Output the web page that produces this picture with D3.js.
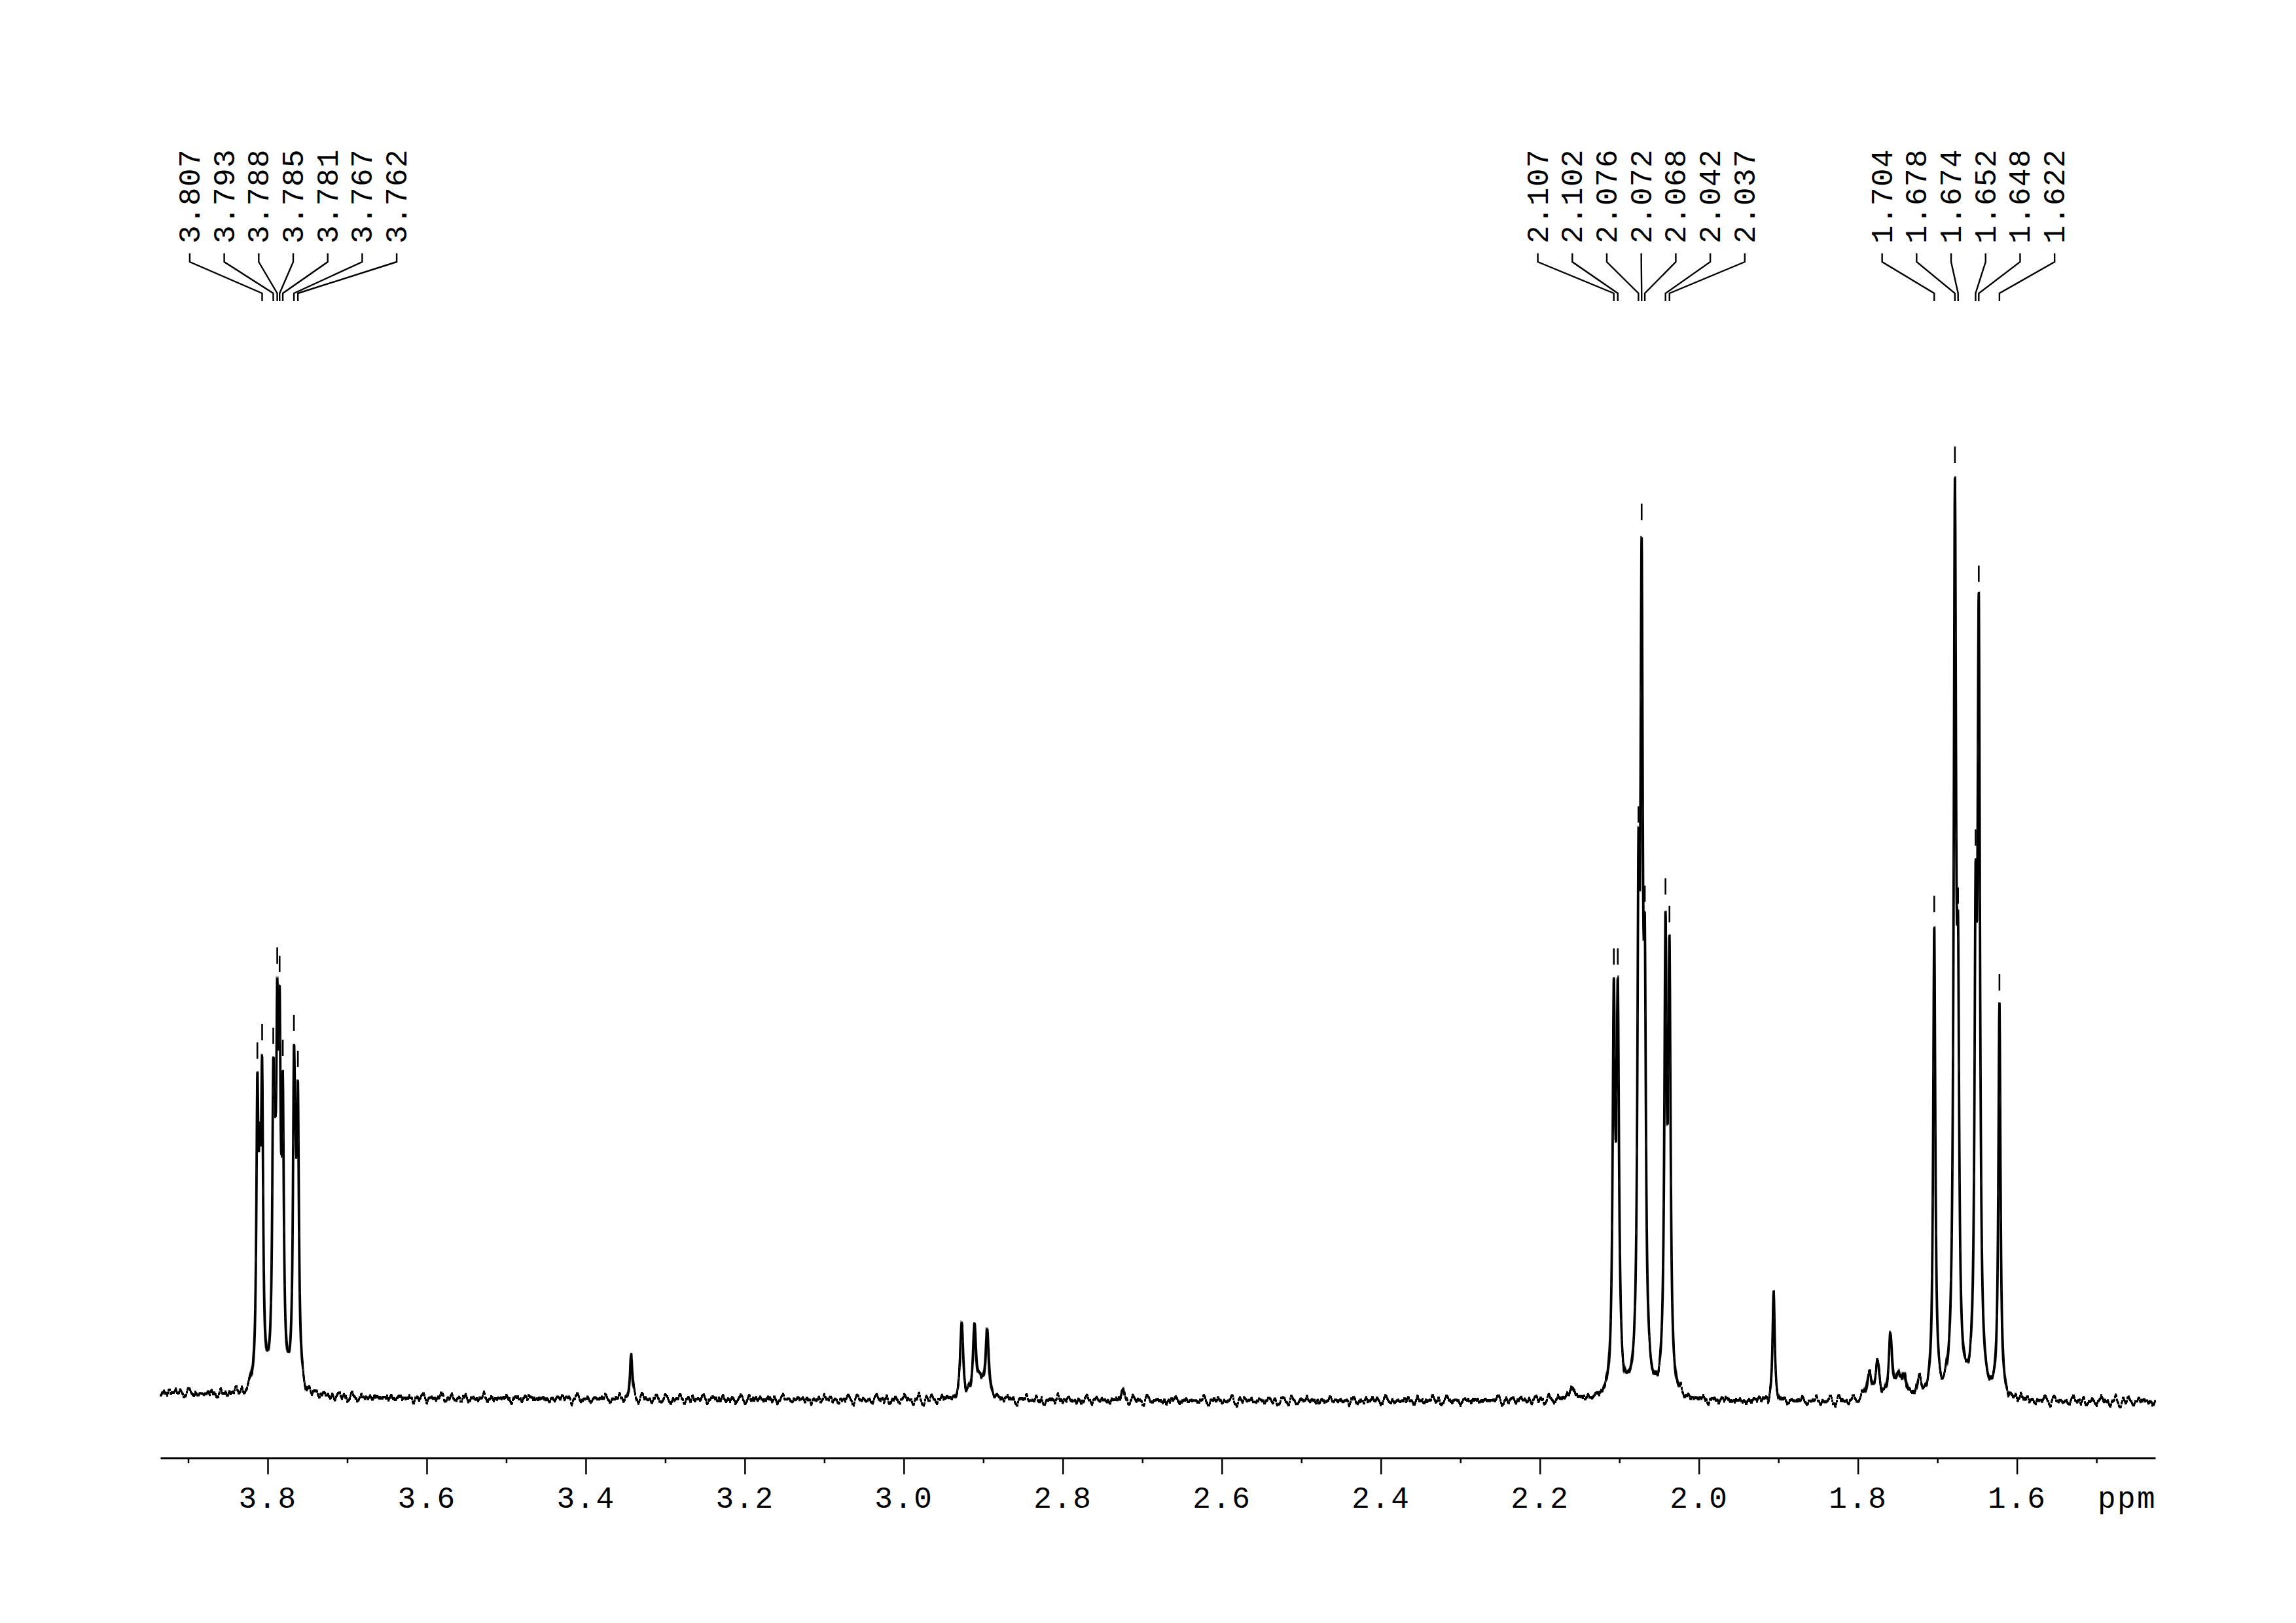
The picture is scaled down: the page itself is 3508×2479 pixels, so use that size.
<!DOCTYPE html>
<html><head><meta charset="utf-8">
<script src="https://cdn.jsdelivr.net/npm/d3@7"></script>
<style>
html,body{margin:0;padding:0;background:#fff;}
svg{display:block;background:#fff;}
</style></head><body>
<svg id="chart" width="3508" height="2479"></svg>
<script>
// ---------------- data ----------------
const axisDomainPpm = [3.935, 1.426];
const majorTicks = [3.8, 3.6, 3.4, 3.2, 3.0, 2.8, 2.6, 2.4, 2.2, 2.0, 1.8, 1.6];
const minorTicks = [3.9, 3.7, 3.5, 3.3, 3.1, 2.9, 2.7, 2.5, 2.3, 2.1, 1.9, 1.7, 1.5];
const axisUnit = "ppm";

// peak-picking label groups (ppm)
const labelGroup1 = [3.807, 3.793, 3.788, 3.785, 3.781, 3.767, 3.762];
const labelGroup2 = [2.107, 2.102, 2.076, 2.072, 2.068, 2.042, 2.037];
const labelGroup3 = [1.704, 1.678, 1.674, 1.652, 1.648, 1.622];
const extraMarkedPpm = [3.813];

// resolved lines: position (ppm), apparent top (% of tallest line), half width (ppm)
const peakPpm = [3.813, 3.810, 3.807, 3.793, 3.791, 3.788, 3.785, 3.781, 3.767, 3.765, 3.762,
                 3.343, 2.927, 2.911, 2.904, 2.895, 2.725, 2.160,
                 2.107, 2.102, 2.076, 2.072, 2.068, 2.042, 2.037,
                 1.906, 1.786, 1.775, 1.759, 1.750, 1.742, 1.723,
                 1.704, 1.678, 1.674, 1.652, 1.648, 1.622];
const peakTop = [35.4, 30.0, 37.4, 37.0, 33.0, 45.7, 44.8, 35.7, 38.4, 31.0, 34.5,
                 4.8, 8.2, 8.5, 3.0, 8.1, 1.0, 1.2,
                 45.6, 45.6, 61.0, 93.8, 52.4, 53.2, 50.2,
                 11.2, 3.2, 4.0, 7.2, 3.0, 3.2, 2.4,
                 51.3, 100, 52.2, 58.5, 87.1, 42.8];
const peakHalfWidth = [0.0015, 0.0015, 0.0015, 0.0015, 0.0015, 0.0015, 0.0015, 0.0015, 0.0015, 0.0015, 0.0015,
                       0.0016, 0.0022, 0.0022, 0.0030, 0.0022, 0.0020, 0.0050,
                       0.0018, 0.0018, 0.0016, 0.0018, 0.0016, 0.0017, 0.0017,
                       0.0016, 0.0035, 0.0030, 0.0025, 0.0030, 0.0030, 0.0035,
                       0.0016, 0.0018, 0.0016, 0.0016, 0.0018, 0.0016];

// baseline level (ppm -> % units)
const baselinePpm = [3.935, 3.88, 3.83, 3.70, 3.40, 3.00, 2.60, 2.20, 1.90, 1.60, 1.426];
const baselineLevel = [0.8, 0.6, 0.5, 0.2, 0.1, 0.0, -0.1, -0.1, -0.2, -0.2, -0.2];

// ---------------- layout ----------------
const W = 3508, H = 2479;
const plotLeft = 245, plotRight = 3293;
const axisY = 2227;
const zeroY = 2138, fullY = 729;
const labelGroupCenterX = [448, 2507.7, 3007.4];
const labelSpacing = 52.7;
const labelBottomY = 372;
const bracketTop = 387, bracketKnee = 400, bracketFoot = 448, bracketEnd = 460;
const fontFamily = "'Liberation Mono', 'DejaVu Sans Mono', monospace";

const svg = d3.select("#chart");

// trace texture (jitter of the recorded line)
const defs = svg.append("defs");
const filt = defs.append("filter").attr("id", "noise")
  .attr("filterUnits", "userSpaceOnUse")
  .attr("x", 0).attr("y", 0).attr("width", W).attr("height", H)
  .attr("color-interpolation-filters", "sRGB");
filt.append("feTurbulence").attr("type", "fractalNoise")
  .attr("baseFrequency", "0.14 0").attr("numOctaves", 3).attr("seed", 5).attr("result", "t");
filt.append("feColorMatrix").attr("in", "t").attr("type", "matrix")
  .attr("values", "0 0 0 0 0.5  0 1 0 0 0  0 0 0 0 0  0 0 0 0 1").attr("result", "m");
filt.append("feDisplacementMap").attr("in", "SourceGraphic").attr("in2", "m")
  .attr("scale", 34).attr("xChannelSelector", "R").attr("yChannelSelector", "G").attr("result", "d");
filt.append("feMorphology").attr("in", "d").attr("operator", "dilate").attr("radius", "1 1");

const x = d3.scaleLinear().domain(axisDomainPpm).range([plotLeft, plotRight]);
const y = d3.scaleLinear().domain([0, 100]).range([zeroY, fullY]);
const base = d3.scaleLinear().domain(baselinePpm).range(baselineLevel).clamp(true);

const lor = (d, w) => (w * w) / (d * d + w * w);

// fit line amplitudes so that the summed trace reaches the read tops
const n = peakPpm.length;
const amp = peakTop.slice();
for (let it = 0; it < 400; it++) {
  for (let i = 0; i < n; i++) {
    let s = base(peakPpm[i]);
    for (let j = 0; j < n; j++) if (j !== i) s += amp[j] * lor(peakPpm[i] - peakPpm[j], peakHalfWidth[j]);
    amp[i] = Math.max(0, peakTop[i] - s);
  }
}
function intensity(p) {
  let s = base(p);
  for (let j = 0; j < n; j++) s += amp[j] * lor(p - peakPpm[j], peakHalfWidth[j]);
  return s;
}

const samplePpm = d3.range(plotLeft, plotRight + 0.01, 0.5).map(px => x.invert(px))
  .concat(peakPpm).sort((a, b) => b - a);
const spectrum = samplePpm.map(p => ({p, v: intensity(p)}));

svg.append("path")
  .datum(spectrum)
  .attr("fill", "none")
  .attr("stroke", "#000")
  .attr("stroke-width", 1.8)
  .attr("stroke-linejoin", "round")
  .attr("filter", "url(#noise)")
  .attr("d", d3.line().x(d => x(d.p)).y(d => y(d.v)));

// peak markers
const markedPpm = labelGroup1.concat(labelGroup2, labelGroup3, extraMarkedPpm);
svg.append("g").selectAll("line").data(markedPpm).join("line")
  .attr("x1", d => x(d)).attr("x2", d => x(d))
  .attr("y1", d => y(intensity(d)) - 47)
  .attr("y2", d => y(intensity(d)) - 22)
  .attr("stroke", "#000").attr("stroke-width", 2.6);

// peak labels + brackets
const groups = [labelGroup1, labelGroup2, labelGroup3];
groups.forEach((grp, gi) => {
  const g = svg.append("g");
  const m = grp.length;
  const lx = i => labelGroupCenterX[gi] + (i - (m - 1) / 2) * labelSpacing;
  g.selectAll("text").data(grp).join("text")
    .attr("transform", (d, i) => `translate(${lx(i) + 15},${labelBottomY}) rotate(-90)`)
    .attr("font-family", fontFamily)
    .attr("font-size", 46)
    .attr("letter-spacing", 1.4)
    .attr("fill", "#000")
    .text(d => d.toFixed(3));
  g.selectAll("path").data(grp).join("path")
    .attr("fill", "none").attr("stroke", "#000").attr("stroke-width", 2.4)
    .attr("d", (d, i) => `M${lx(i)},${bracketTop}V${bracketKnee}L${x(d)},${bracketFoot}V${bracketEnd}`);
});

// axis
const minorAxis = svg.append("g").attr("transform", `translate(0,${axisY})`)
  .call(d3.axisBottom(x).tickValues(minorTicks).tickSize(8).tickSizeOuter(0).tickFormat(""));
minorAxis.select(".domain").remove();
minorAxis.selectAll(".tick line").attr("stroke-width", 2.5);

const majorAxis = svg.append("g").attr("transform", `translate(0,${axisY})`)
  .call(d3.axisBottom(x).tickValues(majorTicks).tickSize(25).tickSizeOuter(0)
        .tickPadding(18).tickFormat(d3.format(".1f")));
majorAxis.select(".domain").attr("stroke-width", 3);
majorAxis.selectAll(".tick line").attr("stroke-width", 2.5);
majorAxis.selectAll(".tick text")
  .attr("font-family", fontFamily).attr("font-size", 46).attr("letter-spacing", 2.4);

svg.append("text")
  .attr("x", plotRight + 2).attr("y", 2303)
  .attr("text-anchor", "end")
  .attr("font-family", fontFamily).attr("font-size", 46).attr("letter-spacing", 2.4)
  .text(axisUnit);
</script>
</body></html>
